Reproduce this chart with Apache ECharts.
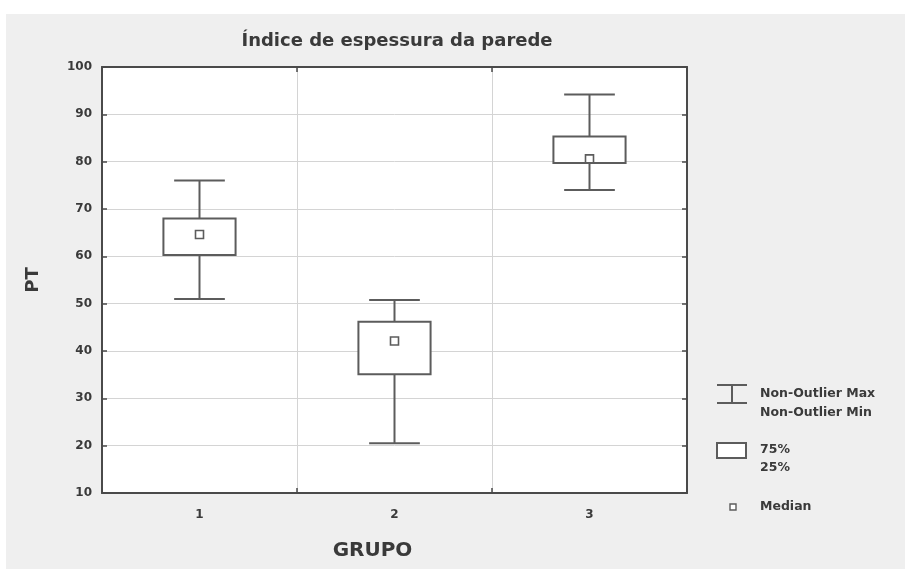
<!DOCTYPE html>
<html>
<head>
<meta charset="utf-8">
<script src="https://cdn.jsdelivr.net/npm/echarts@6/dist/echarts.min.js"></script>
<style>
  html, body { margin: 0; padding: 0; background: #ffffff; }
  #panel { position: absolute; left: 6px; top: 14px; width: 899px; height: 555px; background: #efefef; }
  #chart { position: absolute; left: 0; top: 0; width: 905px; height: 569px; }
</style>
</head>
<body>
<div id="panel"></div>
<div id="chart"></div>
<script>
// Wall thickness index (PT) per group: whiskers, quartiles and median
const categories   = ['1', '2', '3'];
const whiskerLow   = [51.0, 20.5, 74.0];
const quartile1    = [60.3, 35.1, 79.7];
const medians      = [64.6, 42.1, 80.6];
const quartile3    = [68.0, 46.2, 85.3];
const whiskerHigh  = [76.0, 50.8, 94.2];
const yTicks       = { min: 10, max: 100, step: 10 };

const FONT = '"DejaVu Sans", "Liberation Sans", Arial, sans-serif';
const INK = '#3a3a3a';
const MARK = '#5c5c5c';

const boxData = categories.map((c, i) => [i, whiskerLow[i], quartile1[i], medians[i], quartile3[i], whiskerHigh[i]]);

function renderBox(params, api) {
  const i = api.value(0);
  const band = api.size([1, 0])[0];
  const boxW = band * 0.37;
  const capW = band * 0.26;
  const pLow = api.coord([i, api.value(1)]);
  const pQ1 = api.coord([i, api.value(2)]);
  const pMed = api.coord([i, api.value(3)]);
  const pQ3 = api.coord([i, api.value(4)]);
  const pHigh = api.coord([i, api.value(5)]);
  const cx = pMed[0];
  const lineStyle = { stroke: MARK, lineWidth: 2, fill: null };
  const sq = 8;
  return {
    type: 'group',
    children: [
      { type: 'line', shape: { x1: cx, y1: pHigh[1], x2: cx, y2: pQ3[1] }, style: lineStyle },
      { type: 'line', shape: { x1: cx, y1: pQ1[1], x2: cx, y2: pLow[1] }, style: lineStyle },
      { type: 'line', shape: { x1: cx - capW / 2, y1: pHigh[1], x2: cx + capW / 2, y2: pHigh[1] }, style: lineStyle },
      { type: 'line', shape: { x1: cx - capW / 2, y1: pLow[1], x2: cx + capW / 2, y2: pLow[1] }, style: lineStyle },
      { type: 'rect', shape: { x: cx - boxW / 2, y: pQ3[1], width: boxW, height: pQ1[1] - pQ3[1] },
        style: { stroke: MARK, lineWidth: 2, fill: '#ffffff' } },
      { type: 'rect', shape: { x: cx - sq / 2, y: pMed[1] - sq / 2, width: sq, height: sq },
        style: { stroke: MARK, lineWidth: 1.6, fill: '#ffffff' } }
    ]
  };
}

const chart = echarts.init(document.getElementById('chart'), null, { renderer: 'canvas' });

const frameLine = { show: true, onZero: false, lineStyle: { color: '#4a4a4a', width: 2 } };
const frameTick = { show: true, inside: true, length: 5, lineStyle: { color: '#4a4a4a', width: 1.5 } };
const gridLine = { show: true, lineStyle: { color: '#d4d4d4', width: 1 } };

const legendText = (x, y, text) => ({
  type: 'text', x: x, y: y,
  style: { text: text, font: 'bold 12.5px ' + FONT, fill: INK, verticalAlign: 'middle' }
});

chart.setOption({
  animation: false,
  backgroundColor: 'transparent',
  title: {
    text: 'Índice de espessura da parede',
    left: 392, top: 27, textAlign: 'center',
    textStyle: { fontFamily: FONT, fontSize: 18, fontWeight: 'bold', color: INK }
  },
  grid: {
    left: 102, top: 67, right: 218, bottom: 76,
    show: true, backgroundColor: '#ffffff', borderWidth: 0
  },
  xAxis: [
    {
      type: 'category', data: categories, position: 'bottom', boundaryGap: true,
      name: 'GRUPO', nameLocation: 'middle', nameGap: 48,
      nameTextStyle: { fontFamily: FONT, fontSize: 20, fontWeight: 'bold', color: INK, padding: [0, 44, 0, 0] },
      axisLine: frameLine, axisTick: frameTick,
      axisLabel: { margin: 16, fontFamily: FONT, fontSize: 12, fontWeight: 'bold', color: INK },
      splitLine: gridLine
    },
    {
      type: 'category', data: categories, position: 'top', boundaryGap: true,
      axisLine: frameLine, axisTick: frameTick, axisLabel: { show: false }, splitLine: { show: false }
    }
  ],
  yAxis: [
    {
      type: 'value', min: yTicks.min, max: yTicks.max, interval: yTicks.step, position: 'left',
      name: 'PT', nameLocation: 'middle', nameGap: 60, nameRotate: 90,
      nameTextStyle: { fontFamily: FONT, fontSize: 18, fontWeight: 'bold', color: INK },
      axisLine: frameLine, axisTick: frameTick,
      axisLabel: { margin: 10, fontFamily: FONT, fontSize: 12, fontWeight: 'bold', color: INK },
      splitLine: gridLine
    },
    {
      type: 'value', min: yTicks.min, max: yTicks.max, interval: yTicks.step, position: 'right',
      axisLine: frameLine, axisTick: frameTick, axisLabel: { show: false }, splitLine: { show: false }
    }
  ],
  series: [
    {
      type: 'custom', name: 'PT', xAxisIndex: 0, yAxisIndex: 0,
      renderItem: renderBox, data: boxData,
      encode: { x: 0, y: [1, 2, 3, 4, 5] }, z: 5
    }
  ],
  graphic: [
    // whisker key
    { type: 'line', shape: { x1: 717, y1: 385, x2: 747, y2: 385 }, style: { stroke: MARK, lineWidth: 2 } },
    { type: 'line', shape: { x1: 717, y1: 403, x2: 747, y2: 403 }, style: { stroke: MARK, lineWidth: 2 } },
    { type: 'line', shape: { x1: 732, y1: 385, x2: 732, y2: 403 }, style: { stroke: MARK, lineWidth: 2 } },
    legendText(760, 394, 'Non-Outlier Max'),
    legendText(760, 413, 'Non-Outlier Min'),
    // box key
    { type: 'rect', shape: { x: 717, y: 443, width: 29, height: 15 }, style: { stroke: MARK, lineWidth: 2, fill: '#ffffff' } },
    legendText(760, 450, '75%'),
    legendText(760, 468, '25%'),
    // median key
    { type: 'rect', shape: { x: 730, y: 504, width: 6, height: 6 }, style: { stroke: MARK, lineWidth: 1.4, fill: '#ffffff' } },
    legendText(760, 507, 'Median')
  ]
});
</script>
</body>
</html>
